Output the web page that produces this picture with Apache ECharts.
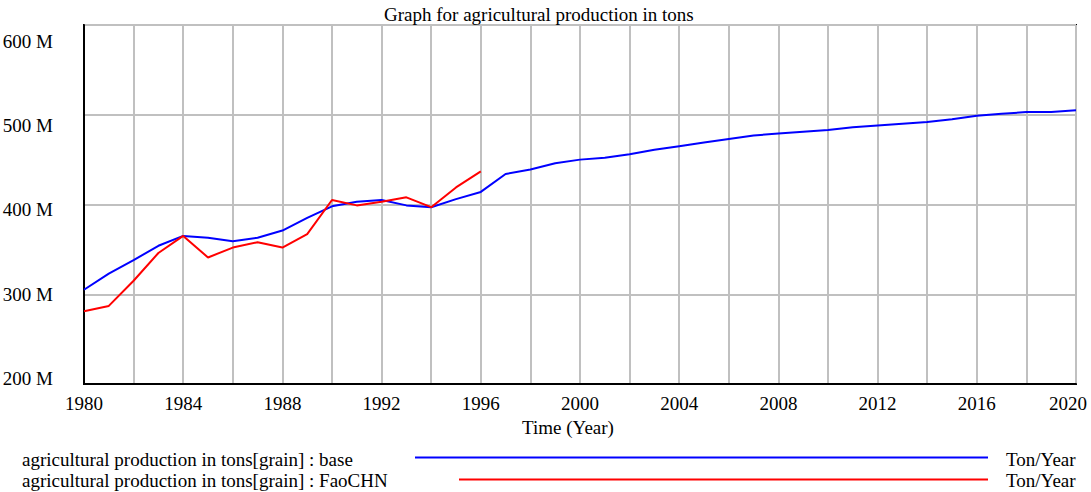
<!DOCTYPE html>
<html>
<head>
<meta charset="utf-8">
<script src="https://cdn.jsdelivr.net/npm/echarts@6/dist/echarts.min.js"></script>
<style>
  html, body { margin: 0; padding: 0; background: #fff; }
  #main { width: 1091px; height: 492px; }
</style>
</head>
<body>
<div id="main"></div>
<script>
// data (millions of tons)
var years = [];
for (var y = 1980; y <= 2020; y++) years.push(y);
var baseValues = [305, 323, 338, 354, 365, 363, 359, 363, 371, 385, 398, 403, 405, 399, 397, 406, 414,
                  434, 439, 446, 450, 452, 456, 461, 465, 469, 473, 477, 479, 481, 483, 486, 488,
                  490, 492, 495, 499, 501, 503, 503, 505];
var faoValues = [281, 287, 315, 346, 365, 341, 352, 358, 352, 367, 405, 399, 403, 408, 397, 419, 437];
var yTicks = [200, 300, 400, 500, 600];
var seriesNames = ['agricultural production in tons[grain] : base',
                   'agricultural production in tons[grain] : FaoCHN'];

function pairs(vals) {
  return vals.map(function (v, i) { return [years[i], v]; });
}

var FONT = 'Liberation Serif';
var chart = echarts.init(document.getElementById('main'), null, { renderer: 'svg' });

var option = {
  animation: false,
  title: {
    text: 'Graph for agricultural production in tons',
    left: 379, top: 0,
    textStyle: { fontFamily: FONT, fontSize: 19, fontWeight: 'normal', color: '#000' }
  },
  grid: {
    left: 84, right: 15, top: 25, bottom: 108,
    outerBoundsMode: 'none',
    show: true, borderColor: '#000', borderWidth: 2
  },
  xAxis: {
    type: 'value', min: 1980, max: 2020, interval: 2,
    name: 'Time (Year)', nameLocation: 'middle', nameGap: 30,
    nameTextStyle: { fontFamily: FONT, fontSize: 19, color: '#000', padding: [0, 24, 0, 0] },
    axisLine: { lineStyle: { color: '#000', width: 2 } },
    axisTick: { show: false },
    axisLabel: {
      margin: 10, fontFamily: FONT, fontSize: 19, color: '#000',
      formatter: function (v) {
        if ((v - 1980) % 4 !== 0) return '';
        return v === 2020 ? '{end|' + v + '}' : String(v);
      },
      rich: { end: { fontFamily: FONT, fontSize: 19, color: '#000', padding: [0, 16, 0, 0] } }
    },
    splitLine: { lineStyle: { color: '#c0c0c0', width: 2 } }
  },
  yAxis: [{
    type: 'value', min: 200, max: 600, interval: 100,
    axisLine: { lineStyle: { color: '#000', width: 2 } },
    axisTick: { show: false },
    axisLabel: { show: false },
    splitLine: { lineStyle: { color: '#c0c0c0', width: 2 } }
  }, {
    type: 'value', position: 'left', min: 193.5, max: 619,
    axisLine: { show: false },
    axisTick: { show: false },
    splitLine: { show: false },
    axisLabel: {
      customValues: yTicks,
      margin: 31, fontFamily: FONT, fontSize: 19, color: '#000',
      formatter: function (v) { return v + ' M'; }
    }
  }],
  series: [{
    name: seriesNames[0], type: 'line', showSymbol: false, silent: true,
    lineStyle: { color: '#0000ff', width: 2 },
    data: pairs(baseValues)
  }, {
    name: seriesNames[1], type: 'line', showSymbol: false, silent: true,
    lineStyle: { color: '#ff0000', width: 2 },
    data: pairs(faoValues)
  }],
  graphic: [
    { type: 'text', left: 22, top: 450, style: { text: seriesNames[0], font: '19px ' + FONT, fill: '#000' } },
    { type: 'text', left: 22, top: 471, style: { text: seriesNames[1], font: '19px ' + FONT, fill: '#000' } },
    { type: 'line', shape: { x1: 415, y1: 457.5, x2: 988, y2: 457.5 }, style: { stroke: '#0000ff', lineWidth: 2 } },
    { type: 'line', shape: { x1: 459, y1: 479.5, x2: 988, y2: 479.5 }, style: { stroke: '#ff0000', lineWidth: 2 } },
    { type: 'text', left: 1006, top: 450, style: { text: 'Ton/Year', font: '19px ' + FONT, fill: '#000' } },
    { type: 'text', left: 1006, top: 471, style: { text: 'Ton/Year', font: '19px ' + FONT, fill: '#000' } }
  ]
};
chart.setOption(option);
</script>
</body>
</html>
